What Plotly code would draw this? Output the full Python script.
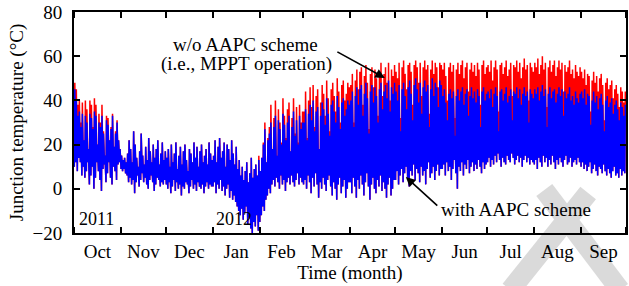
import pandas as pd
import plotly.graph_objects as go

# Daily maxima / minima of junction temperature (°C), Oct 2011 .. Sep 2012
blue_max = [
    # Oct
    45,40,33,35,28,34,22,33,30,18,34,32,27,35,33,20,30,28,33,25,15,31,29,22,27,33,19,25,30,22,18,
    # Nov
    15,13,14,12,16,22,18,12,26,20,14,10,17,25,15,11,19,13,23,17,12,20,14,18,22,11,16,21,13,17,
    # Dec
    14,18,10,20,12,16,21,9,15,19,11,17,20,13,8,18,16,12,21,14,19,10,17,20,12,15,18,11,21,16,13,
    # Jan
    15,22,12,19,23,14,17,21,10,20,18,13,22,16,11,19,9,13,6,10,4,8,12,3,7,14,5,9,11,6,13,
    # Feb
    8,14,20,27,12,22,25,30,18,28,33,15,31,27,20,34,29,22,30,33,17,28,35,24,31,20,33,27,30,
    # Mar
    30,36,22,34,38,31,40,26,35,37,18,33,39,36,29,41,34,24,38,40,35,30,42,37,27,39,41,33,36,40,38,
    # Apr
    40,44,28,42,46,38,45,47,33,43,48,41,25,44,47,39,46,42,30,45,48,36,44,47,41,49,35,46,43,48,
    # May
    44,40,47,26,45,48,42,36,46,49,43,31,47,50,45,39,48,34,46,49,44,47,28,45,50,42,48,46,37,49,47,
    # Jun
    42,45,39,31,43,45,41,44,24,42,45,40,44,46,38,43,45,33,42,46,41,44,39,45,42,28,44,46,40,43,
    # Jul
    44,41,45,37,43,46,42,26,44,45,40,43,46,39,42,45,31,44,43,46,41,45,38,43,46,42,44,30,45,43,41,
    # Aug
    45,43,46,40,44,47,42,45,28,43,46,41,44,45,39,43,46,42,45,33,44,41,43,46,40,42,38,44,41,39,43,
    # Sep
    44,41,45,38,43,42,29,40,44,39,42,36,41,43,38,26,40,42,37,39,41,34,38,40,36,31,39,37,33,38,
]

red_max = [
    # Oct
    48,45,38,40,30,39,22,40,36,18,40,38,28,41,38,20,34,30,38,26,15,33,32,22,28,34,19,26,31,22,18,
    # Nov
    15,13,14,12,16,22,18,12,26,20,14,10,17,25,15,11,19,13,23,17,12,20,14,18,22,11,16,21,13,17,
    # Dec
    14,18,10,20,12,16,21,9,15,19,11,17,20,13,8,18,16,12,21,14,19,10,17,20,12,15,18,11,21,16,13,
    # Jan
    15,22,12,19,23,14,17,21,10,20,18,13,22,16,11,19,9,13,6,10,4,8,12,3,7,14,5,9,11,6,15,
    # Feb
    8,14,21,30,12,23,28,38,18,32,40,15,36,30,21,41,33,23,36,39,17,32,41,25,37,21,38,30,35,
    # Mar
    35,44,23,40,46,37,47,28,42,45,18,39,47,43,33,49,41,26,45,48,42,35,50,44,30,47,49,40,43,48,46,
    # Apr
    47,52,30,49,54,45,53,55,38,51,56,48,27,52,55,46,54,50,33,53,57,42,52,55,48,57,40,54,51,56,
    # May
    53,50,57,32,55,58,52,45,56,57,53,38,56,58,55,48,57,42,55,58,54,56,34,54,58,52,57,55,46,57,56,
    # Jun
    54,57,51,40,55,57,53,56,32,54,57,52,56,58,50,55,57,44,54,57,53,56,51,57,54,38,56,58,52,55,
    # Jul
    56,53,58,49,55,58,54,35,56,57,52,55,58,51,54,57,42,56,55,58,53,57,50,55,59,54,56,40,57,55,53,
    # Aug
    57,55,59,52,56,60,54,57,37,55,58,53,56,58,51,55,58,54,57,44,56,53,55,58,52,54,50,56,53,51,55,
    # Sep
    53,50,54,47,52,51,35,49,53,48,51,44,50,52,47,31,48,50,45,47,49,41,45,47,43,37,46,44,39,44,
]

day_min = [
    # Oct
    10,12,8,14,12,6,10,5,8,12,2,6,10,0,5,12,8,4,-1,9,11,3,7,12,5,2,10,8,4,11,12,
    # Nov
    9,8,9,7,6,3,5,2,4,-2,3,6,1,4,7,3,5,2,0,4,6,3,-1,2,5,4,1,3,2,4,
    # Dec
    2,0,3,-2,1,4,-1,3,0,2,-3,1,0,3,2,-2,1,4,0,2,-1,3,1,0,2,-2,1,3,0,2,1,
    # Jan
    1,3,-2,2,0,4,-1,1,-3,0,2,-4,-1,-5,-3,-6,-8,-10,-12,-9,-14,-11,-8,-16,-13,-18,-20,-15,-17,-12,-19,
    # Feb
    -15,-12,-8,-10,-5,-3,0,-2,2,4,1,5,3,0,6,2,4,-1,3,5,2,6,3,1,4,7,2,5,3,
    # Mar
    2,4,0,6,3,-2,5,1,7,2,-4,3,0,5,2,-1,4,6,1,-3,3,0,-5,2,5,-2,1,4,-4,0,3,
    # Apr
    3,-2,5,1,-4,4,0,6,2,-3,3,7,1,-5,2,5,0,-2,4,1,6,-1,3,0,-4,2,5,-3,0,4,
    # May
    4,8,2,6,9,3,7,10,5,1,8,6,11,4,9,7,3,10,6,8,2,9,12,5,7,10,4,8,11,6,9,
    # Jun
    9,11,6,12,8,10,4,9,13,7,0,10,8,12,6,11,9,13,7,10,12,8,11,9,13,10,7,12,9,11,
    # Jul
    12,14,10,13,11,15,12,16,13,10,14,12,11,15,13,12,16,14,11,13,15,12,14,10,13,15,12,14,11,13,12,
    # Aug
    11,13,9,14,12,10,15,12,14,10,13,11,15,12,9,13,11,14,12,10,13,15,11,12,14,10,12,13,11,14,12,
    # Sep
    10,12,9,11,8,10,12,7,9,11,8,6,10,9,7,11,8,6,9,7,5,8,10,6,7,5,9,6,8,7,
]

start_date = "2011-10-01"

days = pd.date_range(start_date, periods=len(day_min), freq="D")
xs, yb, yr = [], [], []
for d, lo, hb, hr in zip(days, day_min, blue_max, red_max):
    xs += [d + pd.Timedelta(hours=5), d + pd.Timedelta(hours=13)]
    yb += [lo, hb]
    yr += [lo, hr]

FONT = "Liberation Serif, Times New Roman, Times, serif"
FS = 19

fig = go.Figure()
fig.add_trace(go.Scatter(x=xs, y=yr, mode="lines", line=dict(color="#ff0000", width=1.5),
                         name="w/o AAPC", showlegend=False, hoverinfo="skip"))
fig.add_trace(go.Scatter(x=xs, y=yb, mode="lines", line=dict(color="#0000ff", width=1.5),
                         name="with AAPC", showlegend=False, hoverinfo="skip"))

def px2paper(px, py):
    return (px - 74) / 554, (233 - py) / 221

ann = []
def text(s, px, py, anchor="center", size=FS):
    x, y = px2paper(px, py)
    ann.append(dict(text=s, x=x, y=y, xref="paper", yref="paper", showarrow=False,
                    xanchor=anchor, yanchor="middle", font=dict(family=FONT, size=size, color="black")))

text("w/o AAPC scheme", 246, 44)
text("(i.e., MPPT operation)", 247, 64)
text("with AAPC scheme", 518, 209)
text("2011", 77, 219, "left", 18)
text("2012", 215, 219, "left", 18)

for hx, hy, tx, ty in [(386, 78, 337, 51), (407, 177, 440, 207)]:
    x, y = px2paper(hx, hy)
    ann.append(dict(text="", x=x, y=y, xref="paper", yref="paper", showarrow=True,
                    ax=tx - hx, ay=ty - hy, arrowhead=2, arrowsize=1.2, arrowwidth=1.6,
                    arrowcolor="black"))

shapes = []
for (x0p, y0p, x1p, y1p) in [(546, 190, 622, 290), (590, 193, 512, 290)]:
    a = px2paper(x0p, y0p); b = px2paper(x1p, y1p)
    shapes.append(dict(type="line", xref="paper", yref="paper", x0=a[0], y0=a[1], x1=b[0], y1=b[1],
                       line=dict(color="#dadada", width=20), layer="below"))

fig.update_layout(
    width=629, height=286,
    margin=dict(l=74, r=1, t=12, b=53),
    paper_bgcolor="white", plot_bgcolor="rgba(0,0,0,0)",
    font=dict(family=FONT, size=FS, color="black"),
    annotations=ann, shapes=shapes,
    xaxis=dict(type="date", range=["2011-10-01", "2012-10-01"], dtick="M1", tick0="2011-10-01",
               tickformat="%b", ticklabelmode="period", ticks="inside", ticklen=6, tickwidth=1.5,
               tickcolor="black", showline=True, linecolor="black", linewidth=2, mirror="ticks",
               showgrid=False, zeroline=False, tickfont=dict(family=FONT, size=FS),
               title=dict(text="Time (month)", standoff=2, font=dict(family=FONT, size=FS))),
    yaxis=dict(range=[-20, 80], dtick=20, ticks="inside", ticklen=6, tickwidth=1.5,
               tickcolor="black", showline=True, linecolor="black", linewidth=2, mirror="ticks",
               showgrid=False, zeroline=False, ticklabelstandoff=6, tickfont=dict(family=FONT, size=FS),
               title=dict(text="Junction temperature (°C)", standoff=4, font=dict(family=FONT, size=FS))),
)

fig.write_html("out.html", config={"displayModeBar": False},
               post_script="document.body.style.margin='0';")
